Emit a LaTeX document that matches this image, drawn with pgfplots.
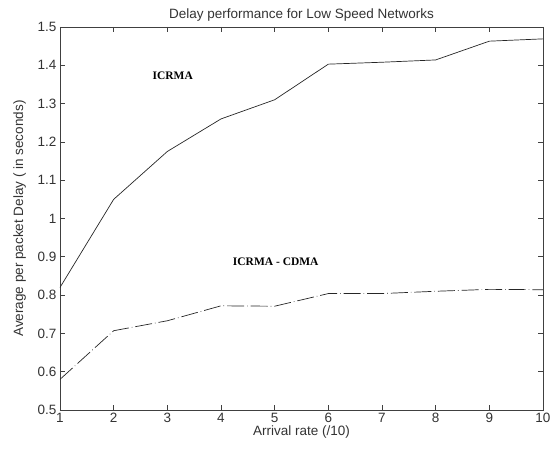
\documentclass[border=0pt]{standalone}
\usepackage{fontspec}
\setmainfont{Liberation Sans}
\newfontfamily\tnr{Liberation Serif}
\usepackage{pgfplots}
\pgfplotsset{compat=1.18}
\definecolor{txt}{HTML}{333333}
\definecolor{axc}{HTML}{404040}
\begin{document}
\begin{tikzpicture}
\begin{axis}[
  at={(0,0)}, anchor=south west,
  scale only axis, width=483pt, height=383pt,
  xmin=1, xmax=10, ymin=0.5, ymax=1.5,
  xtick={1,...,10},
  ytick={0.5,0.6,...,1.5},
  tick align=inside,
  major tick length=5pt,
  axis line style={axc, line width=0.8pt},
  tick style={axc, line width=0.6pt},
  /pgf/number format/assume math mode=true,
  /pgf/number format/fixed,
  /pgf/number format/precision=1,
  ticklabel style={font=\fontsize{13.5}{14}\selectfont, text=txt},
  title={Delay performance for Low Speed Networks},
  title style={font=\fontsize{13.5}{14}\selectfont, text=txt, yshift=-4pt},
  xlabel={Arrival rate (/10)},
  ylabel={Average per packet Delay ( in seconds)},
  label style={font=\fontsize{13.5}{14}\selectfont, text=txt},
  xlabel style={yshift=4pt},
  ylabel style={yshift=5pt},
  clip=false,
]
\addplot[color=black!85, line width=0.7pt] coordinates {
(1,0.82) (2,1.05) (3,1.175) (4,1.26) (5,1.31) (6,1.403) (7,1.408) (8,1.414) (9,1.463) (10,1.469)};
\addplot[color=black!85, line width=0.7pt, dash pattern=on 17pt off 3pt on 0.6pt off 3pt] coordinates {
(1,0.58) (2,0.707) (3,0.733) (4,0.772) (5,0.771) (6,0.804) (7,0.804) (8,0.81) (9,0.815) (10,0.814)};
\node[font=\tnr\bfseries\fontsize{11.5}{13}\selectfont] at (axis cs:3.1,1.372) {ICRMA};
\node[font=\tnr\bfseries\fontsize{11.5}{13}\selectfont] at (axis cs:5.02,0.886) {ICRMA - CDMA};
\end{axis}
\pgfresetboundingbox
\path (-60pt,-42pt) rectangle (496pt,410pt);
\end{tikzpicture}
\end{document}
